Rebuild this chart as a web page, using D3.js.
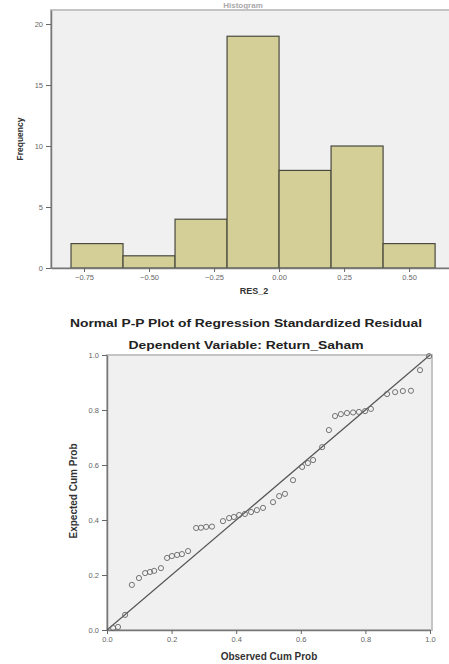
<!DOCTYPE html>
<html>
<head>
<meta charset="utf-8">
<script src="https://cdn.jsdelivr.net/npm/d3@7"></script>
<style>
  body { margin: 0; background: #fff; }
  svg { display: block; font-family: "Liberation Sans", Arial, sans-serif; }
  .tick text { fill: #666; font-size: 7.5px; }
  .tick line { stroke: #666; }
  .domain { stroke: #777; stroke-width: 1.5; }
</style>
</head>
<body>
<svg id="chart" width="449" height="664"></svg>
<script>
// histogram of RES_2 (bins of 0.2)
const binEdges = [-0.8, -0.6, -0.4, -0.2, 0.0, 0.2, 0.4, 0.6];
const binCounts = [2, 1, 4, 19, 8, 10, 2];
const histXTicks = [-0.75, -0.5, -0.25, 0, 0.25, 0.5];
const histYTicks = [0, 5, 10, 15, 20];

// P-P plot points
const observedCum = [0.019, 0.034, 0.056, 0.077, 0.099, 0.118, 0.133, 0.146, 0.167, 0.186,
  0.201, 0.217, 0.232, 0.251, 0.276, 0.291, 0.307, 0.325, 0.359, 0.378,
  0.393, 0.409, 0.427, 0.446, 0.464, 0.483, 0.514, 0.533, 0.551, 0.576,
  0.604, 0.622, 0.638, 0.666, 0.687, 0.706, 0.724, 0.743, 0.762, 0.780,
  0.799, 0.817, 0.867, 0.892, 0.916, 0.941, 0.969, 0.997];
const expectedCum = [0.007, 0.011, 0.055, 0.164, 0.189, 0.207, 0.211, 0.215, 0.225, 0.262,
  0.269, 0.273, 0.276, 0.287, 0.371, 0.372, 0.375, 0.376, 0.396, 0.407,
  0.411, 0.418, 0.422, 0.429, 0.436, 0.444, 0.465, 0.487, 0.495, 0.545,
  0.593, 0.607, 0.618, 0.665, 0.727, 0.778, 0.785, 0.789, 0.791, 0.793,
  0.796, 0.804, 0.858, 0.865, 0.869, 0.870, 0.945, 0.996];
const ppTicks = [0, 0.2, 0.4, 0.6, 0.8, 1.0];

const svg = d3.select("#chart");
const barFill = "#d3cf96";
const plotBg = "#f0f0f0";

// ---------- histogram ----------
const hx = d3.scaleLinear().domain([-0.877, 0.665]).range([51, 452]);
const hy = d3.scaleLinear().domain([0, 21.15]).range([268, 10]);

// title (mostly cropped in the source, kept small and light)
svg.append("text").attr("x", 243).attr("y", 7.5)
  .attr("text-anchor", "middle").attr("font-size", 8).attr("font-weight", "bold")
  .attr("fill", "#aaa").text("Histogram");

svg.append("rect")
  .attr("x", hx.range()[0]).attr("y", hy.range()[1])
  .attr("width", hx.range()[1] - hx.range()[0]).attr("height", hy(0) - hy.range()[1])
  .attr("fill", plotBg).attr("stroke", "#c4c4c4").attr("stroke-width", 2);

const bins = binCounts.map((c, i) => ({ x0: binEdges[i], x1: binEdges[i + 1], n: c }));
svg.append("g").selectAll("rect").data(bins).join("rect")
  .attr("x", d => hx(d.x0))
  .attr("y", d => hy(d.n))
  .attr("width", d => hx(d.x1) - hx(d.x0))
  .attr("height", d => hy(0) - hy(d.n))
  .attr("fill", barFill)
  .attr("stroke", "#4a4a40")
  .attr("stroke-width", 1.2);

svg.append("g")
  .attr("transform", `translate(0,${hy(0)})`)
  .call(d3.axisBottom(hx).tickValues(histXTicks).tickSize(4).tickSizeOuter(0)
    .tickFormat(d3.format(".2f")));
svg.append("g")
  .attr("transform", `translate(${hx.range()[0]},0)`)
  .call(d3.axisLeft(hy).tickValues(histYTicks).tickSize(5).tickSizeOuter(0));

svg.append("text").attr("x", 254).attr("y", 294)
  .attr("text-anchor", "middle").attr("font-size", 9).attr("font-weight", "bold")
  .attr("fill", "#333").text("RES_2");
svg.append("text")
  .attr("transform", "translate(23,139) rotate(-90)")
  .attr("text-anchor", "middle").attr("font-size", 8.5).attr("font-weight", "bold")
  .attr("fill", "#333").text("Frequency");

// ---------- P-P plot ----------
const px = d3.scaleLinear().domain([0, 1]).range([107, 430]);
const py = d3.scaleLinear().domain([0, 1]).range([630, 355]);

svg.append("text").attr("x", 246).attr("y", 327)
  .attr("text-anchor", "middle").attr("font-size", 11).attr("font-weight", "bold")
  .attr("textLength", 352).attr("lengthAdjust", "spacingAndGlyphs")
  .attr("fill", "#222").text("Normal P-P Plot of Regression Standardized Residual");
svg.append("text").attr("x", 246).attr("y", 349)
  .attr("text-anchor", "middle").attr("font-size", 11).attr("font-weight", "bold")
  .attr("textLength", 235).attr("lengthAdjust", "spacingAndGlyphs")
  .attr("fill", "#222").text("Dependent Variable: Return_Saham");

svg.append("rect")
  .attr("x", px(0)).attr("y", py(1))
  .attr("width", 432 - px(0)).attr("height", py(0) - py(1))
  .attr("fill", plotBg).attr("stroke", "#c4c4c4").attr("stroke-width", 2);

svg.append("g")
  .attr("transform", `translate(0,${py(0)})`)
  .call(d3.axisBottom(px).tickValues(ppTicks).tickSize(4).tickSizeOuter(0)
    .tickFormat(d3.format(".1f")));
svg.append("g")
  .attr("transform", `translate(${px(0)},0)`)
  .call(d3.axisLeft(py).tickValues(ppTicks).tickSize(5).tickSizeOuter(0)
    .tickFormat(d3.format(".1f")));

svg.append("line")
  .attr("x1", px(0)).attr("y1", py(0))
  .attr("x2", px(1)).attr("y2", py(1))
  .attr("stroke", "#555").attr("stroke-width", 1.2);

const pts = observedCum.map((o, i) => ({ o, e: expectedCum[i] }));
svg.append("g").selectAll("circle").data(pts).join("circle")
  .attr("cx", d => px(d.o))
  .attr("cy", d => py(d.e))
  .attr("r", 2.6)
  .attr("fill", "none")
  .attr("stroke", "#666")
  .attr("stroke-width", 0.9);

svg.append("text").attr("x", 269).attr("y", 660)
  .attr("text-anchor", "middle").attr("font-size", 10).attr("font-weight", "bold")
  .attr("fill", "#333").text("Observed Cum Prob");
svg.append("text")
  .attr("transform", "translate(77,491) rotate(-90)")
  .attr("text-anchor", "middle").attr("font-size", 10).attr("font-weight", "bold")
  .attr("fill", "#333").text("Expected Cum Prob");
</script>
</body>
</html>
